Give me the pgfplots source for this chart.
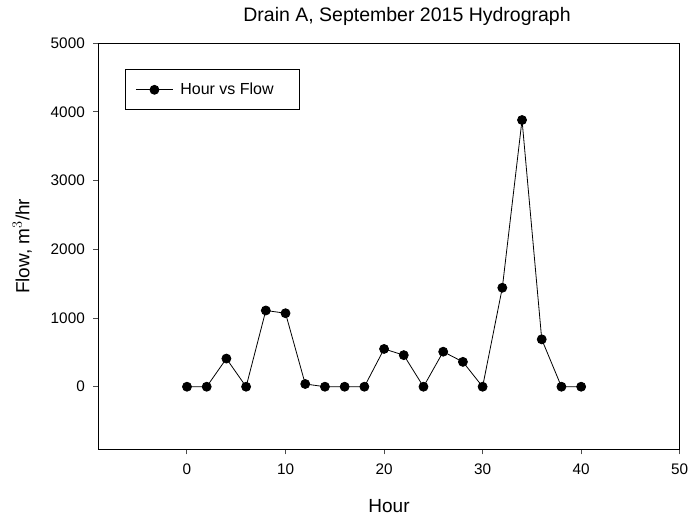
\documentclass[border=0pt]{standalone}
\usepackage{pgfplots}
\pgfplotsset{compat=1.18}
\usepackage{fontspec}
\setmainfont{Liberation Sans}
\begin{document}
\begin{tikzpicture}
\begin{axis}[
  at={(0,0)}, anchor=south west,
  width=581.4bp, height=406bp, scale only axis,
  xmin=-9, xmax=50, ymin=-911, ymax=5000,
  xtick={0,10,...,50}, ytick={0,1000,...,5000},
  tick align=outside, tick pos=left, major tick length=5bp,
  axis line style={line width=1bp},
  tick style={line width=1bp, black!70},
  /pgf/number format/assume math mode=true,
  /pgf/number format/1000 sep={},
  tick label style={font=\fontsize{15.3bp}{18bp}\selectfont},
  xticklabel style={yshift=-6bp},
  yticklabel style={xshift=-5bp},
  title={Drain A, September 2015 Hydrograph},
  title style={font=\fontsize{19.5bp}{23bp}\selectfont, at={(0.531,1)}, anchor=south, yshift=8bp},
  xlabel={Hour},
  ylabel={Flow, m$^{3}$/hr},
  label style={font=\fontsize{19bp}{22bp}\selectfont},
  xlabel style={yshift=-18bp},
  ylabel style={yshift=12bp},
  legend style={at={(0.046,0.936)}, anchor=north west, draw=black, line width=1bp,
    font=\fontsize{16bp}{19bp}\selectfont, inner xsep=10bp, inner ysep=11.5bp},
  legend image code/.code={
    \draw[#1, line width=0.8bp] (0bp,0bp) -- (37bp,0bp);
    \fill[black] (18.5bp,0bp) circle (4.5bp);
  },
]
\addplot[black, line width=0.8bp, mark=*, mark size=4.5bp, mark options={fill=black}]
  coordinates {
  (0,0) (2,0) (4,410) (6,0) (8,1110) (10,1070) (12,40) (14,0) (16,0) (18,0)
  (20,550) (22,460) (24,0) (26,510) (28,362) (30,0) (32,1441) (34,3883) (36,690)
  (38,0) (40,0)
  };
\addlegendentry{\kern5bp Hour vs Flow\rule{14bp}{0pt}}
\end{axis}
\pgfresetboundingbox
\path (-98.3bp,-71.7bp) rectangle (590.7bp,449.3bp);
\end{tikzpicture}
\end{document}
